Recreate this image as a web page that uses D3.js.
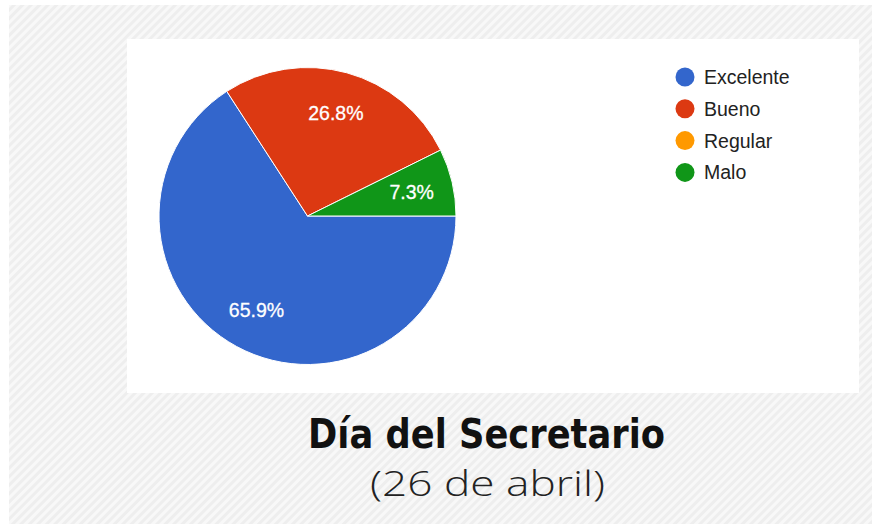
<!DOCTYPE html>
<html>
<head>
<meta charset="utf-8">
<script src="https://cdn.jsdelivr.net/npm/d3@7"></script>
<style>
  html, body { margin: 0; padding: 0; background: #fff; }
  svg { display: block; }
</style>
</head>
<body>
<svg id="chart" width="872" height="524"></svg>
<script>
// survey answers (counts), legend order
var categories = ["Excelente", "Bueno", "Regular", "Malo"];
var counts = [27, 11, 0, 3];
var colors = ["#3366cc", "#dc3912", "#ff9900", "#109618"];
var titleText = "Día del Secretario";
var subtitleText = "(26 de abril)";

var svg = d3.select("#chart"),
    width = +svg.attr("width"),
    height = +svg.attr("height");

// hatched backdrop
var defs = svg.append("defs");
var pat = defs.append("pattern")
    .attr("id", "hatch")
    .attr("patternUnits", "userSpaceOnUse")
    .attr("width", 6)
    .attr("height", 6)
    .attr("patternTransform", "rotate(45)");
pat.append("rect").attr("width", 6).attr("height", 6).attr("fill", "#f8f8f8");
pat.append("rect").attr("width", 3).attr("height", 6).attr("fill", "#eeeeee");

svg.append("rect")
    .attr("x", 9).attr("y", 5)
    .attr("width", width - 9).attr("height", height - 5)
    .attr("fill", "url(#hatch)");

// white chart panel
svg.append("rect")
    .attr("x", 127).attr("y", 39)
    .attr("width", 732).attr("height", 354)
    .attr("fill", "#fff");

var data = categories.map(function (c, i) { return { name: c, value: counts[i], color: colors[i] }; });
var total = d3.sum(counts);

var cx = 307.5, cy = 216, r = 148.5;

var pie = d3.pie()
    .value(function (d) { return d.value; })
    .sort(null)
    .startAngle(Math.PI / 2)
    .endAngle(Math.PI / 2 + 2 * Math.PI);

var arc = d3.arc().innerRadius(0).outerRadius(r);
var labelArc = d3.arc().innerRadius(r * 0.72).outerRadius(r * 0.72);

var g = svg.append("g").attr("transform", "translate(" + cx + "," + cy + ")");
var arcs = pie(data).filter(function (d) { return d.data.value > 0; });

g.selectAll("path")
    .data(arcs)
    .enter().append("path")
    .attr("d", arc)
    .attr("fill", function (d) { return d.data.color; })
    .attr("stroke", "#fff")
    .attr("stroke-width", 1);

var fmt = d3.format(".1%");
g.selectAll("text")
    .data(arcs)
    .enter().append("text")
    .attr("transform", function (d) { return "translate(" + labelArc.centroid(d) + ")"; })
    .attr("text-anchor", "middle")
    .attr("dy", "0.36em")
    .attr("font-family", "'Liberation Sans', Arial, sans-serif")
    .attr("font-size", 19.5)
    .attr("fill", "#fff")
    .attr("stroke", "#fff")
    .attr("stroke-width", 0.3)
    .text(function (d) { return fmt(d.data.value / total); });

// legend
var legend = svg.append("g").selectAll("g")
    .data(data)
    .enter().append("g")
    .attr("transform", function (d, i) { return "translate(685," + (77 + i * 31.8) + ")"; });

legend.append("circle")
    .attr("r", 9.5)
    .attr("fill", function (d) { return d.color; });

legend.append("text")
    .attr("x", 19)
    .attr("dy", "0.36em")
    .attr("font-family", "'Liberation Sans', Arial, sans-serif")
    .attr("font-size", 19.5)
    .attr("fill", "#222")
    .text(function (d) { return d.name; });

// titles under the panel
svg.append("text")
    .attr("x", 486.5).attr("y", 448)
    .attr("text-anchor", "middle")
    .attr("font-family", "'DejaVu Sans', sans-serif")
    .attr("font-weight", "bold")
    .attr("font-size", 40)
    .attr("textLength", 357)
    .attr("lengthAdjust", "spacingAndGlyphs")
    .attr("fill", "#111")
    .text(titleText);

svg.append("text")
    .attr("x", 487.5).attr("y", 496)
    .attr("text-anchor", "middle")
    .attr("font-family", "'Open Sans', sans-serif")
    .attr("font-weight", 300)
    .attr("font-size", 35)
    .attr("textLength", 235)
    .attr("lengthAdjust", "spacingAndGlyphs")
    .attr("fill", "#222")
    .text(subtitleText);
</script>
</body>
</html>
